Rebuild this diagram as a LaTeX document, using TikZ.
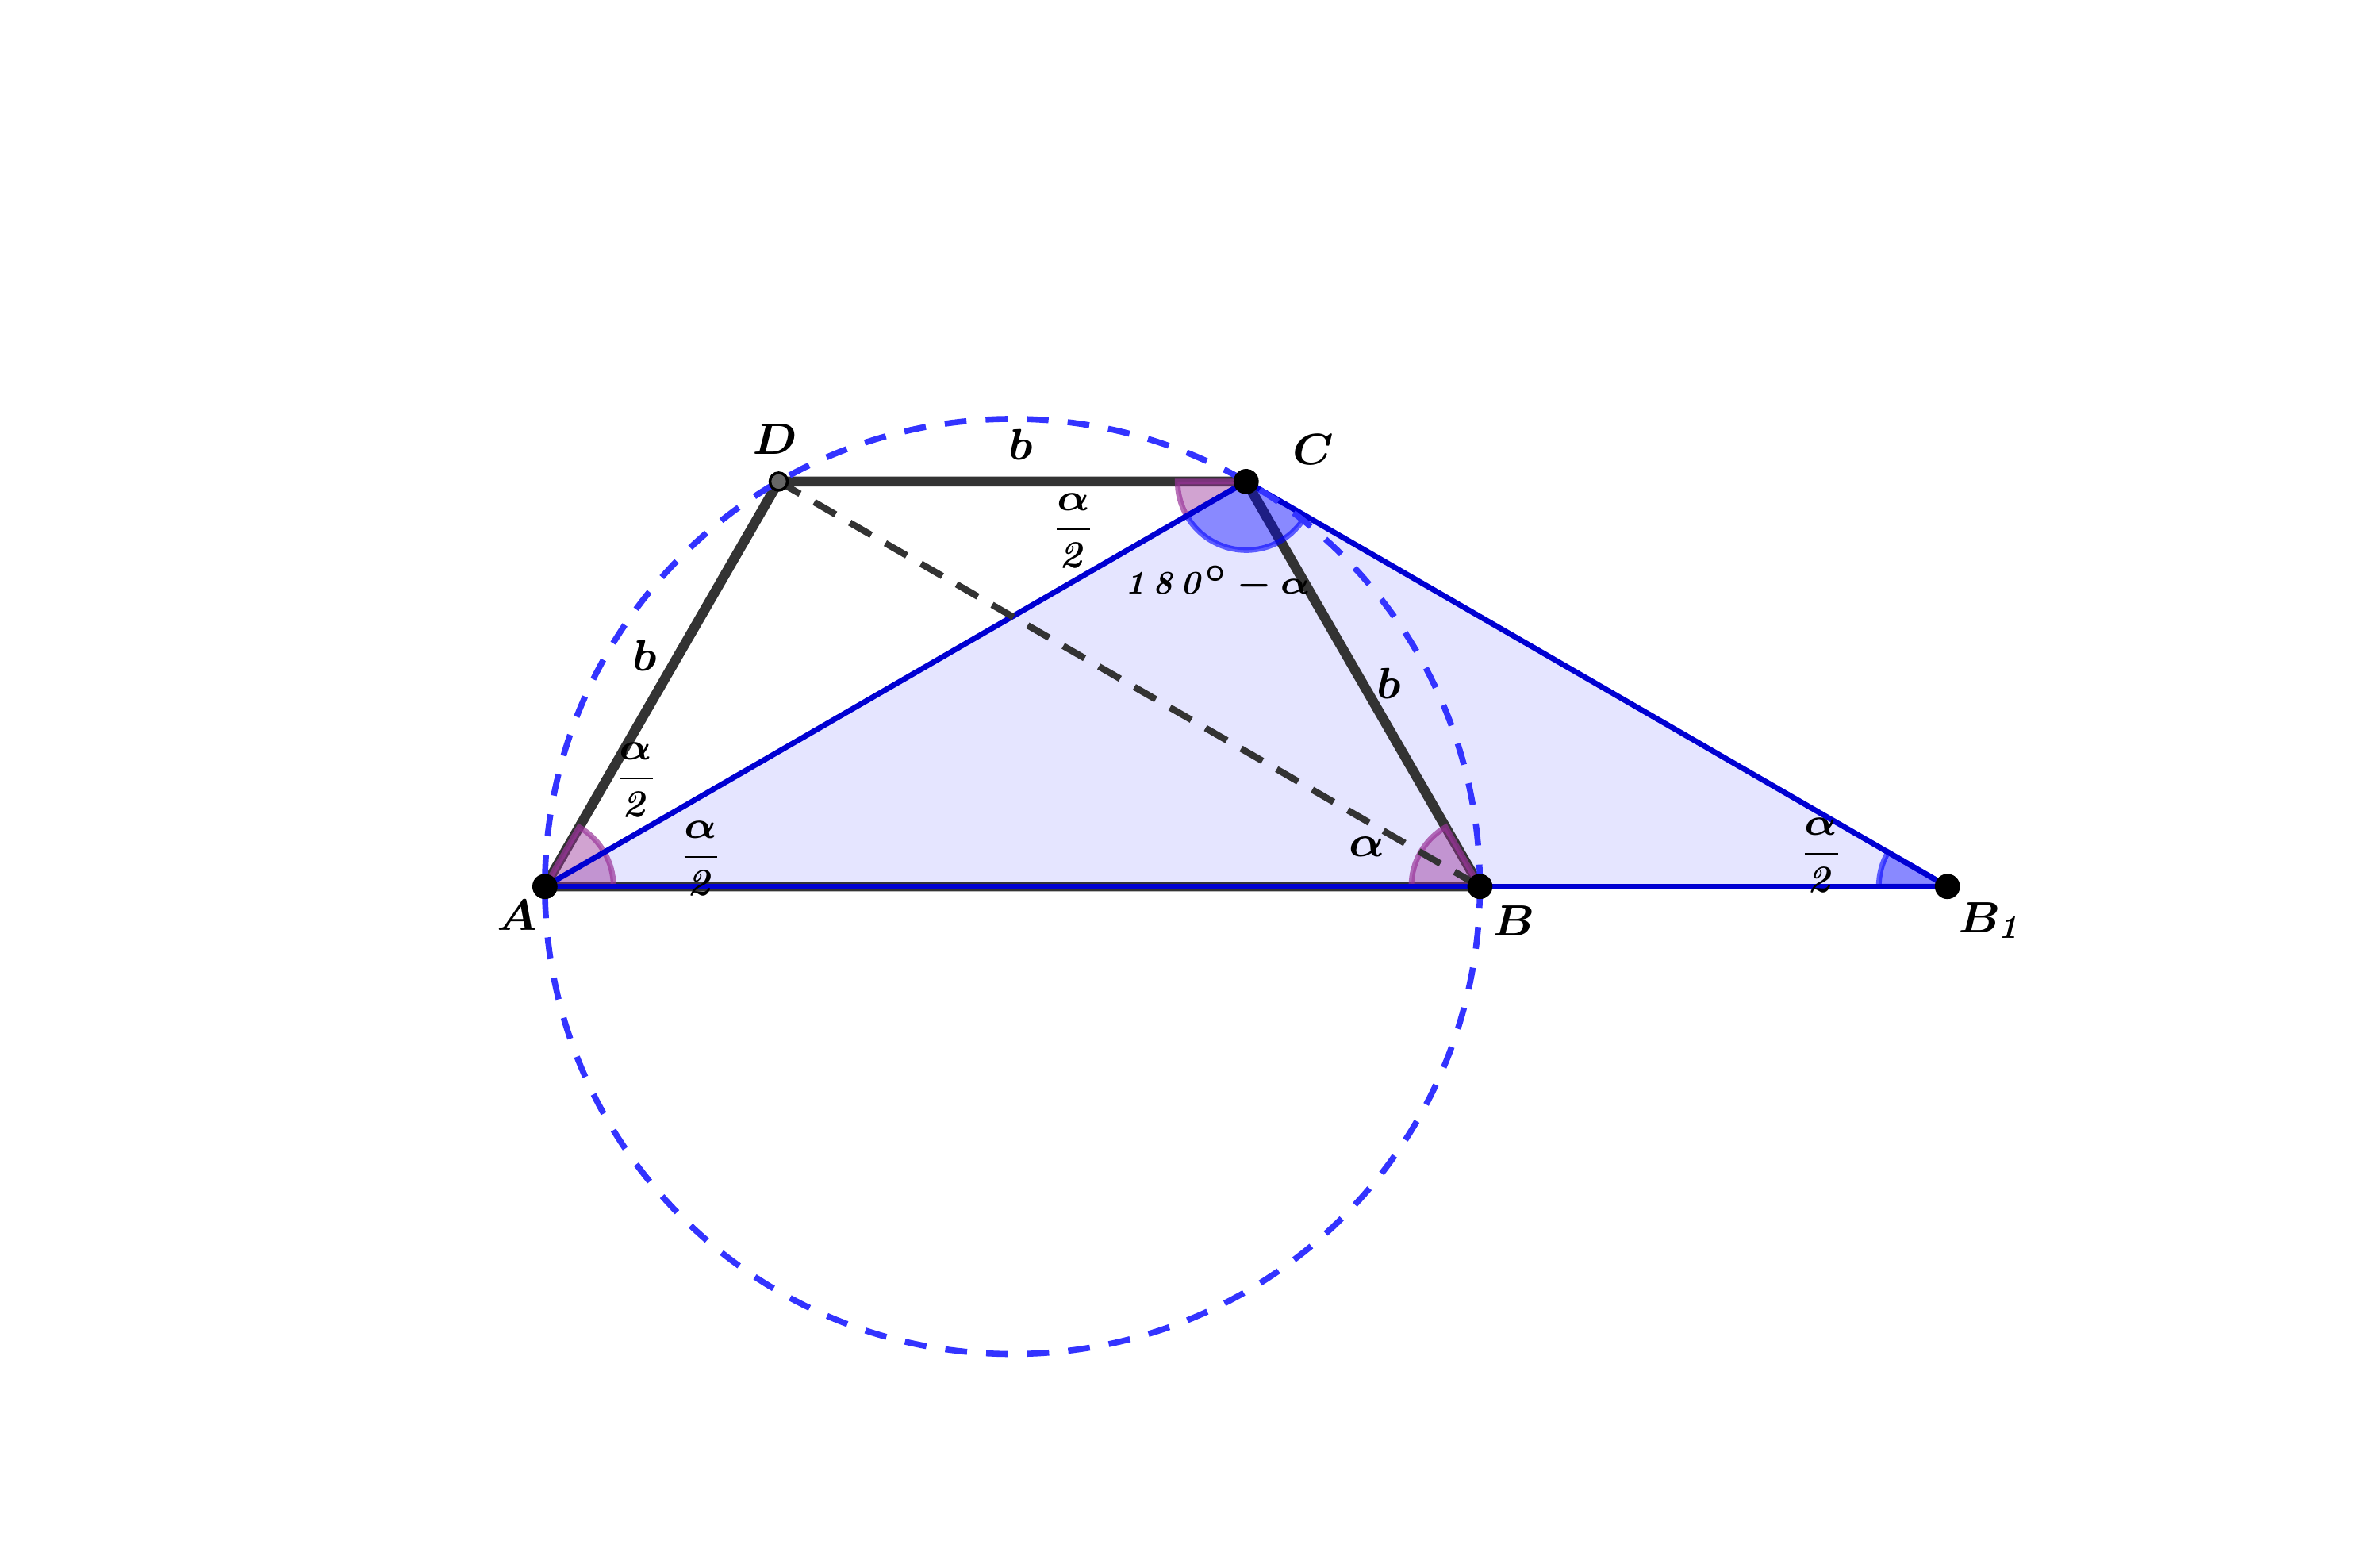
\documentclass[tikz,border=0pt]{standalone}
\usepackage{amsmath}
\usepackage{tikz}
\definecolor{trapgray}{RGB}{51,51,51}
\definecolor{sideblue}{RGB}{0,0,210}
\definecolor{circblue}{RGB}{51,51,255}
\definecolor{angpurple}{RGB}{153,51,153}
\tikzstyle{tri} = [fill=blue!10]
\tikzstyle{trap} = [draw=trapgray, line width=1.8pt, line join=round]
\tikzstyle{side} = [draw=sideblue, line width=1pt]
\tikzstyle{circ} = [draw=circblue, line width=1.1pt, dash pattern=on 4pt off 3.5pt]
\tikzstyle{diag} = [draw=trapgray, line width=1.2pt, dash pattern=on 4.5pt off 3pt]
\tikzstyle{angp} = [draw=angpurple, fill=angpurple, fill opacity=0.45, draw opacity=0.7, line width=1pt]
\tikzstyle{angb} = [draw=blue, fill=blue, fill opacity=0.4, draw opacity=0.6, line width=1pt]
\tikzstyle{pt} = [circle, fill=black, inner sep=0pt, minimum size=4.6pt]
\tikzstyle{ptd} = [circle, fill=black!60, draw=black, line width=0.5pt, inner sep=0pt, minimum size=3.2pt]
\tikzstyle{lbl} = [font=\footnotesize\boldmath, inner sep=0pt]
\tikzstyle{slbl} = [font=\scriptsize\boldmath, inner sep=0pt]
\tikzstyle{tlbl} = [font=\fontsize{5.6}{6.6}\selectfont\boldmath, inner sep=0pt]

\begin{document}
\begin{tikzpicture}
  \useasboundingbox (-6.497,-4.266) rectangle (8.776,5.688);
  \coordinate (O) at (0,0);
  \coordinate (A) at (-3,0);
  \coordinate (B) at (3,0);
  \coordinate (C) at (60:3);
  \coordinate (D) at (120:3);
  \coordinate (B1) at (6,0);
  \fill[tri] (A) -- (C) -- (B1) -- cycle;
  \draw[trap] (A) -- (B) -- (C) -- (D) -- cycle;
  \filldraw[angp] (A) -- ++(0:0.44) arc (0:60:0.44) -- cycle;
  \filldraw[angp] (B) -- ++(120:0.44) arc (120:180:0.44) -- cycle;
  \filldraw[angp] (C) -- ++(180:0.44) arc (180:210:0.44) -- cycle;
  \filldraw[angb] (C) -- ++(210:0.44) arc (210:330:0.44) -- cycle;
  \filldraw[angb] (B1) -- ++(150:0.44) arc (150:180:0.44) -- cycle;
  \draw[side] (A) -- (C);
  \draw[side] (C) -- (B1);
  \draw[side] (A) -- (B1);
  \draw[circ] (O) circle (3);
  \draw[diag] (D) -- (B);
  \node[pt](pA) at (A){};
  \node[pt](pB) at (B){};
  \node[pt](pC) at (C){};
  \node[ptd](pD) at (D){};
  \node[pt](pB1) at (B1){};
  \node[lbl](lA) at (-3.178,-0.187){$A$};
  \node[lbl](lB) at (3.218,-0.218){$B$};
  \node[lbl](lB1) at (6.282,-0.218){$B_{\mathit{1}}$};
  \node[lbl](lC) at (1.93,2.803){$C$};
  \node[lbl](lD) at (-1.522,2.871){$D$};
  \node[lbl](bDC) at (0.052,2.837){$b$};
  \node[lbl](bAD) at (-2.357,1.48){$b$};
  \node[lbl](bCB) at (2.415,1.305){$b$};
  \node[slbl](aA1) at (-2.415,0.685){$\dfrac{\alpha}{\mathit{2}}$};
  \node[slbl](aA2) at (-1.999,0.181){$\dfrac{\alpha}{\mathit{2}}$};
  \node[slbl](aC) at (0.393,2.282){$\dfrac{\alpha}{\mathit{2}}$};
  \node[slbl](aB1) at (5.191,0.2){$\dfrac{\alpha}{\mathit{2}}$};
  \node[lbl](aB) at (2.276,0.255){$\alpha$};
  \node[tlbl](aBC) at (1.319,1.946){$\mathit{1}\mkern1.5mu\mathit{8}\mkern1.5mu\mathit{0}^{\circ}\mkern3mu{-}\mkern3mu\alpha$};
\end{tikzpicture}
\end{document}
